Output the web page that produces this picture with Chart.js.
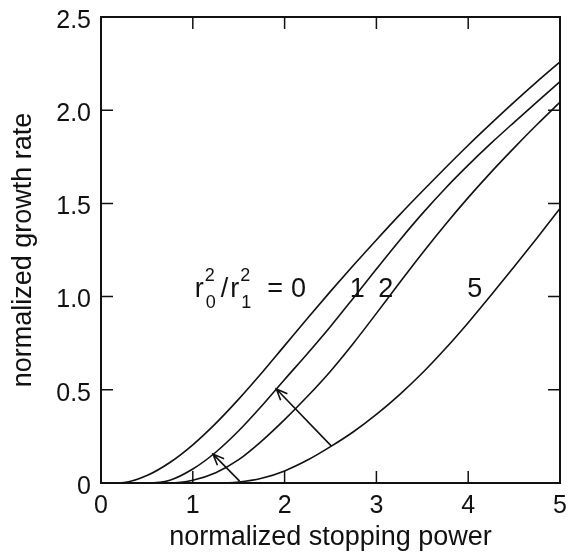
<!DOCTYPE html>
<html>
<head>
<meta charset="utf-8">
<script src="https://cdn.jsdelivr.net/npm/chart.js@4.4.1/dist/chart.umd.min.js"></script>
<style>
  html, body { margin: 0; padding: 0; background: #fff; }
  #wrap { width: 573px; height: 556px; }
</style>
</head>
<body>
<div id="wrap"><canvas id="growth-chart"></canvas></div>
<script>
// normalized stopping power
const stoppingPower = [0, 0.25, 0.5, 0.75, 1, 1.25, 1.5, 1.75, 2, 2.25, 2.5,
  2.75, 3, 3.25, 3.5, 3.75, 4, 4.25, 4.5, 4.75, 5];

// normalized growth rate, one list per r0^2/r1^2
const rate0 = [0, 0.003, 0.04, 0.11, 0.205, 0.32, 0.45, 0.59, 0.737, 0.884, 1.028,
  1.168, 1.304, 1.437, 1.565, 1.69, 1.812, 1.929, 2.043, 2.153, 2.259];
const rate1 = [0, 0, 0, 0.015, 0.075, 0.165, 0.28, 0.413, 0.555, 0.695, 0.84,
  0.993, 1.148, 1.3, 1.445, 1.58, 1.705, 1.823, 1.935, 2.045, 2.153];
const rate2 = [0, 0, 0, 0, 0.015, 0.055, 0.125, 0.225, 0.34, 0.465, 0.6,
  0.75, 0.91, 1.073, 1.233, 1.386, 1.531, 1.668, 1.798, 1.923, 2.043];
const rate5 = [0, 0, 0, 0, 0, 0, 0.005, 0.025, 0.065, 0.123, 0.195,
  0.275, 0.368, 0.473, 0.59, 0.72, 0.86, 1.008, 1.16, 1.315, 1.473];

const xTickLabels = ["0", "1", "2", "3", "4", "5"];
const yTickLabels = ["0", "0.5", "1.0", "1.5", "2.0", "2.5"];

// curve labels (left edge x, baseline y in data units)
const curveLabels = ["0", "1", "2", "5"];
const labelX = [1.02, 2.71, 3.02, 3.99];
const labelY = 1.0;

// arrows: from [x, y] to [x, y]
const arrowFrom = [[1.51, 0.01], [2.51, 0.198]];
const arrowTo = [[1.22, 0.155], [1.91, 0.504]];

const FONT = "'Liberation Sans', Arial, Helvetica, sans-serif";
const INK = "#111";

function toPoints(ys) {
  return ys.map((y, i) => ({ x: stoppingPower[i], y: y }));
}

function curve(ys) {
  return {
    data: toPoints(ys),
    borderColor: INK,
    borderWidth: 1.6,
    pointRadius: 0,
    fill: false,
    cubicInterpolationMode: "monotone",
  };
}

// frame with inward ticks, arrows and the r0^2/r1^2 labels
const decorations = {
  id: "decorations",
  afterDatasetsDraw(chart) {
    const { ctx, chartArea: a, scales } = chart;
    const xs = scales.x, ys = scales.y;
    ctx.save();
    ctx.strokeStyle = INK;
    ctx.lineWidth = 2;
    ctx.strokeRect(a.left, a.top, a.right - a.left, a.bottom - a.top);

    const len = 12;
    ctx.lineWidth = 1.5;
    ctx.beginPath();
    xs.ticks.forEach((t) => {
      if (t.value <= xs.min || t.value >= xs.max) return;
      const px = xs.getPixelForValue(t.value);
      ctx.moveTo(px, a.bottom); ctx.lineTo(px, a.bottom - len);
      ctx.moveTo(px, a.top); ctx.lineTo(px, a.top + len);
    });
    ys.ticks.forEach((t) => {
      if (t.value <= ys.min || t.value >= ys.max) return;
      const py = ys.getPixelForValue(t.value);
      ctx.moveTo(a.left, py); ctx.lineTo(a.left + len, py);
      ctx.moveTo(a.right, py); ctx.lineTo(a.right - len, py);
    });
    ctx.stroke();

    // arrows
    ctx.lineWidth = 1.6;
    arrowFrom.forEach((f, i) => {
      const x1 = xs.getPixelForValue(f[0]), y1 = ys.getPixelForValue(f[1]);
      const x2 = xs.getPixelForValue(arrowTo[i][0]), y2 = ys.getPixelForValue(arrowTo[i][1]);
      const ang = Math.atan2(y2 - y1, x2 - x1);
      const head = 12, spread = 0.4;
      ctx.beginPath();
      ctx.moveTo(x1, y1);
      ctx.lineTo(x2, y2);
      ctx.moveTo(x2 - head * Math.cos(ang - spread), y2 - head * Math.sin(ang - spread));
      ctx.lineTo(x2, y2);
      ctx.lineTo(x2 - head * Math.cos(ang + spread), y2 - head * Math.sin(ang + spread));
      ctx.stroke();
    });

    // labels
    ctx.fillStyle = INK;
    ctx.textBaseline = "alphabetic";
    ctx.textAlign = "left";
    const by = ys.getPixelForValue(labelY);
    const big = "27px " + FONT, small = "18px " + FONT;
    let x = xs.getPixelForValue(labelX[0]);
    const ratio = [["r", "0"], ["r", "1"]];
    ratio.forEach((p, i) => {
      ctx.font = big;
      ctx.fillText(p[0], x, by);
      x += ctx.measureText(p[0]).width + 1;
      ctx.font = small;
      ctx.fillText("2", x, by - 16);
      ctx.fillText(p[1], x + 1, by + 11);
      x += ctx.measureText("2").width + 6;
      if (i === 0) {
        ctx.font = big;
        ctx.fillText("/", x, by);
        x += ctx.measureText("/").width + 2;
      }
    });
    ctx.font = big;
    x += 11;
    ctx.fillText("=", x, by);
    x += ctx.measureText("=").width + 8;
    ctx.fillText(curveLabels[0], x, by);
    for (let i = 1; i < curveLabels.length; i++) {
      ctx.fillText(curveLabels[i], xs.getPixelForValue(labelX[i]), by);
    }
    ctx.restore();
  },
};

new Chart(document.getElementById("growth-chart"), {
  type: "line",
  data: {
    datasets: [curve(rate0), curve(rate1), curve(rate2), curve(rate5)],
  },
  plugins: [decorations],
  options: {
    responsive: true,
    maintainAspectRatio: false,
    animation: false,
    layout: { padding: { top: 16, right: 13, left: 0, bottom: 0 } },
    plugins: {
      legend: { display: false },
      tooltip: { enabled: false },
    },
    scales: {
      x: {
        type: "linear",
        min: 0,
        max: 5,
        grid: { display: false },
        border: { display: false },
        ticks: {
          stepSize: 1,
          padding: 0,
          color: INK,
          font: { family: FONT, size: 25 },
          maxRotation: 0,
          callback: (v) => xTickLabels[Math.round(v)],
        },
        title: {
          display: true,
          text: "normalized stopping power",
          color: INK,
          font: { family: FONT, size: 27 },
          padding: { top: 0, bottom: 2 },
        },
        afterFit: (s) => { s.height = 73; },
      },
      y: {
        type: "linear",
        min: 0,
        max: 2.5,
        grid: { display: false },
        border: { display: false },
        ticks: {
          stepSize: 0.5,
          padding: 2,
          labelOffset: 4,
          color: INK,
          font: { family: FONT, size: 25 },
          callback: (v) => yTickLabels[Math.round(v * 2)],
        },
        title: {
          display: true,
          text: "normalized growth rate",
          color: INK,
          font: { family: FONT, size: 27 },
          padding: { top: 7, bottom: 0 },
        },
        afterFit: (s) => { s.width = 101; },
      },
    },
  },
});
</script>
</body>
</html>
